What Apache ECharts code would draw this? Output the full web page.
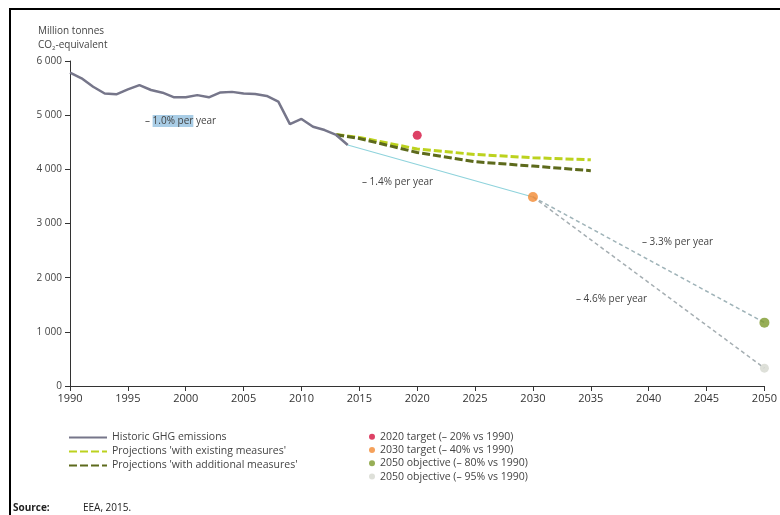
<!DOCTYPE html>
<html><head><meta charset="utf-8">
<script src="https://cdn.jsdelivr.net/npm/echarts@6/dist/echarts.min.js"></script>
<style>html,body{margin:0;padding:0;background:#fff}#c{width:780px;height:515px}</style>
</head><body><div id="c"></div>
<script>
const histYears = [1990,1991,1992,1993,1994,1995,1996,1997,1998,1999,2000,2001,2002,2003,2004,2005,2006,2007,2008,2009,2010,2011,2012,2013,2014];
const histValues = [5785,5680,5525,5400,5385,5475,5555,5465,5415,5330,5330,5370,5330,5420,5430,5400,5390,5355,5250,4835,4930,4785,4725,4635,4450];
const projYears = [2013,2015,2020,2025,2030,2035];
const wemValues = [4640,4590,4375,4275,4215,4175];
const wamValues = [4640,4570,4310,4140,4060,3975];
const trendYears = [2014,2030];
const trendValues = [4450,3490];
const path80Years = [2030,2050];
const path80Values = [3490,1170];
const path95Years = [2030,2050];
const path95Values = [3490,330];
const target2020 = [2020,4630];
const target2030 = [2030,3490];
const obj2050_80 = [2050,1170];
const obj2050_95 = [2050,330];
const yTicks = ['0','1 000','2 000','3 000','4 000','5 000','6 000'];

const zip = (xs, ys) => xs.map((x,i)=>[x, ys[i]]);
const font = 'Open Sans, Noto Sans, sans-serif';
const chart = echarts.init(document.getElementById('c'));
chart.setOption({
  animation:false,
  backgroundColor:'#fff',
  grid:{left:70,right:14,top:61,bottom:129,containLabel:false},
  xAxis:{type:'value',min:1990,max:2050,interval:5,
    axisLine:{lineStyle:{color:'#333',width:1}},
    axisTick:{show:true,length:5,lineStyle:{color:'#333'}},
    axisLabel:{color:'#333',fontFamily:font,fontSize:11,margin:7,formatter:v=>String(v)},
    splitLine:{show:false}},
  yAxis:{type:'value',min:0,max:6000,interval:1000,
    axisLine:{show:true,lineStyle:{color:'#333',width:1}},
    axisTick:{show:true,length:5,lineStyle:{color:'#333'}},
    axisLabel:{color:'#444',fontFamily:font,fontSize:10,margin:8,formatter:v=>yTicks[v/1000]},
    splitLine:{show:false}},
  legend:[
    {orient:'vertical',left:63,top:427,itemWidth:38,itemHeight:10,itemGap:3,
     itemStyle:{opacity:0},
     textStyle:{fontFamily:font,fontSize:10.5,color:'#444'},
     data:['Historic GHG emissions',"Projections 'with existing measures'","Projections 'with additional measures'"]},
    {orient:'vertical',left:364,top:425,itemWidth:6,itemHeight:6,itemGap:0,icon:'circle',
     textStyle:{fontFamily:font,fontSize:10.5,color:'#444',lineHeight:13.3},
     data:['2020 target (– 20% vs 1990)','2030 target (– 40% vs 1990)','2050 objective (– 80% vs 1990)','2050 objective (– 95% vs 1990)']}
  ],
  title:{left:33,top:19,text:'Million tonnes\nCO{s|2}-equivalent',
    textStyle:{fontFamily:font,fontSize:10,fontWeight:'normal',color:'#444',lineHeight:14,
      rich:{s:{fontSize:6,fontFamily:font,color:'#444',padding:[6,0,0,0]}}}},
  graphic:[
    {type:'rect',shape:{x:10,y:9,width:780,height:520},style:{fill:'none',stroke:'#000',lineWidth:2}},
    {type:'text',left:145,top:115,style:{text:'– {h|1.0% per} year',fontFamily:font,fontSize:10,fill:'#444',
      rich:{h:{backgroundColor:'#a9cde6',fontFamily:font,fontSize:10,fill:'#444',padding:[1,0,1,0]}}}},
    {type:'text',left:362,top:177,style:{text:'– 1.4% per year',fontFamily:font,fontSize:10,fill:'#444'}},
    {type:'text',left:642,top:237,style:{text:'– 3.3% per year',fontFamily:font,fontSize:10,fill:'#444'}},
    {type:'text',left:576,top:294,style:{text:'– 4.6% per year',fontFamily:font,fontSize:10,fill:'#444'}},
    {type:'text',left:13,top:503,style:{text:'Source:',fontFamily:font,fontSize:10,fontWeight:'bold',fill:'#222'}},
    {type:'text',left:83,top:503,style:{text:'EEA, 2015.',fontFamily:font,fontSize:10,fill:'#222'}}
  ],
  series:[
    {name:'trend14',type:'line',data:zip(trendYears,trendValues),symbol:'none',lineStyle:{color:'#8fd3dc',width:1.2},z:2},
    {name:'path80',type:'line',data:zip(path80Years,path80Values),symbol:'none',lineStyle:{color:'#9fb3b8',width:1.5,type:[4,3]},z:2},
    {name:'path95',type:'line',data:zip(path95Years,path95Values),symbol:'none',lineStyle:{color:'#a5aeb2',width:1.5,type:[4,3]},z:2},
    {name:'Historic GHG emissions',type:'line',data:zip(histYears,histValues),symbol:'none',color:'#76768a',lineStyle:{color:'#76768a',width:2.5},z:4},
    {name:"Projections 'with existing measures'",type:'line',data:zip(projYears,wemValues),symbol:'none',color:'#bcd21e',lineStyle:{color:'#bcd21e',width:3,type:[8,3]},z:3},
    {name:"Projections 'with additional measures'",type:'line',data:zip(projYears,wamValues),symbol:'none',color:'#5d6a1c',lineStyle:{color:'#5d6a1c',width:3,type:[8,3]},z:3},
    {name:'2020 target (– 20% vs 1990)',type:'scatter',data:[target2020],symbolSize:9,itemStyle:{color:'#d4123e'},z:5},
    {name:'2030 target (– 40% vs 1990)',type:'scatter',data:[target2030],symbolSize:10,itemStyle:{color:'#f28a32'},z:5},
    {name:'2050 objective (– 80% vs 1990)',type:'scatter',data:[obj2050_80],symbolSize:10,itemStyle:{color:'#7d9a2c'},z:5},
    {name:'2050 objective (– 95% vs 1990)',type:'scatter',data:[obj2050_95],symbolSize:9,itemStyle:{color:'#d6d8cf'},z:5}
  ]
});
</script></body></html>
